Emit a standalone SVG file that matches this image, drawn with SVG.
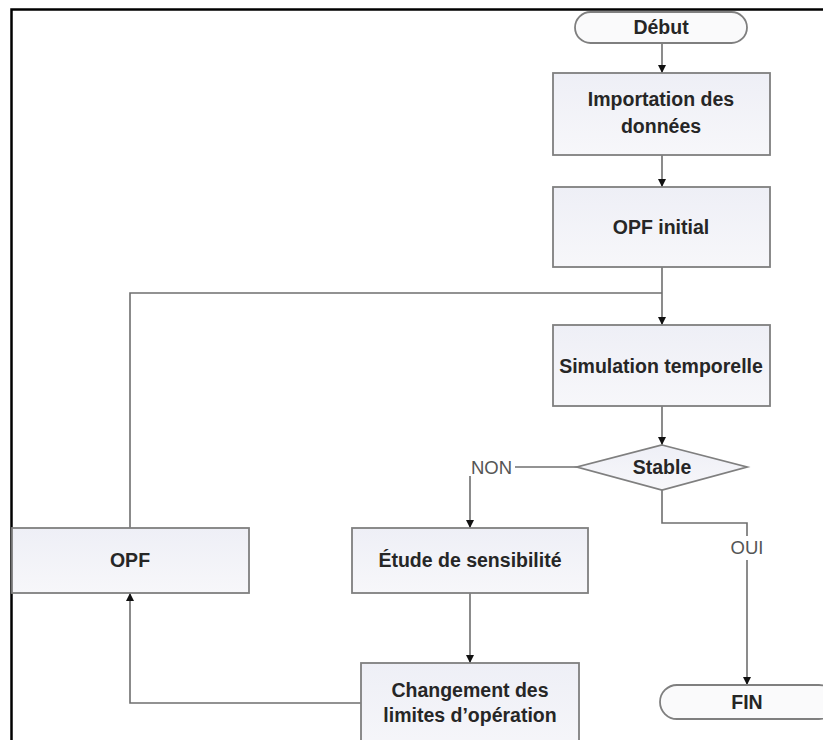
<svg xmlns="http://www.w3.org/2000/svg" width="823" height="740" viewBox="0 0 823 740">
<defs>
<linearGradient id="bg" x1="0" y1="0" x2="0" y2="1">
<stop offset="0" stop-color="#eeeff6"/>
<stop offset="1" stop-color="#f7f7fa"/>
</linearGradient>
<marker id="ah" viewBox="0 0 8 8" refX="8" refY="4" markerWidth="8" markerHeight="8" markerUnits="userSpaceOnUse" orient="auto">
<path d="M0,0 L8,4 L0,8 z" fill="#111"/>
</marker>
</defs>
<style>
.box{fill:url(#bg);stroke:#7f7f7f;stroke-width:1.8}
.term{fill:#fafafb;stroke:#7f7f7f;stroke-width:1.8}
.t{font-family:"Liberation Sans",Arial,sans-serif;font-weight:bold;font-size:19.5px;fill:#262626;text-anchor:middle}
.lbl{font-family:"Liberation Sans",Arial,sans-serif;font-size:18.5px;fill:#555}
.c{fill:none;stroke:#6f6f6f;stroke-width:1.6}
.a{marker-end:url(#ah)}
</style>
<rect width="823" height="740" fill="#ffffff"/>
<path d="M11.5,740 V9.5 H823" fill="none" stroke="#000" stroke-width="2.5"/>

<g id="connectors">
<path class="c a" d="M662,43 V73"/>
<path class="c a" d="M662,155 V187"/>
<path class="c a" d="M662,267 V325"/>
<path class="c" d="M130,528 V293 H662"/>
<path class="c a" d="M662,406 V445"/>
<path class="c" d="M577,467 H515"/>
<path class="c a" d="M470,476 V528"/>
<path class="c a" d="M470,593 V663"/>
<path class="c a" d="M361,703 H130 V593"/>
<path class="c" d="M662,490 V523 H747 V536"/>
<path class="c a" d="M747,560 V685"/>
<text class="lbl" x="471" y="474">NON</text>
<text class="lbl" x="747" y="554" text-anchor="middle">OUI</text>
</g>

<g id="debut">
<rect class="term" x="575" y="12" width="172" height="31" rx="15.5"/>
<text class="t" x="661" y="34">Début</text>
</g>
<g id="importation">
<rect class="box" x="553" y="73" width="217" height="82"/>
<text class="t" x="661" y="106">Importation des</text>
<text class="t" x="661" y="133">données</text>
</g>
<g id="opf-initial">
<rect class="box" x="553" y="187" width="217" height="80"/>
<text class="t" x="661" y="234">OPF initial</text>
</g>
<g id="simulation">
<rect class="box" x="553" y="325" width="217" height="81"/>
<text class="t" x="661" y="373">Simulation temporelle</text>
</g>
<g id="stable">
<polygon class="box" points="662,445 747,467 662,490 577,467"/>
<text class="t" x="662" y="474">Stable</text>
</g>
<g id="etude">
<rect class="box" x="352" y="528" width="236" height="65"/>
<text class="t" x="470" y="567">Étude de sensibilité</text>
</g>
<g id="opf">
<rect class="box" x="12" y="528" width="237" height="65"/>
<text class="t" x="130" y="567">OPF</text>
</g>
<g id="changement">
<rect class="box" x="361" y="663" width="218" height="100"/>
<text class="t" x="470" y="697">Changement des</text>
<text class="t" x="470" y="722">limites d’opération</text>
</g>
<g id="fin">
<rect class="term" x="660" y="685" width="176" height="34" rx="17"/>
<text class="t" x="747" y="709">FIN</text>
</g>
</svg>
